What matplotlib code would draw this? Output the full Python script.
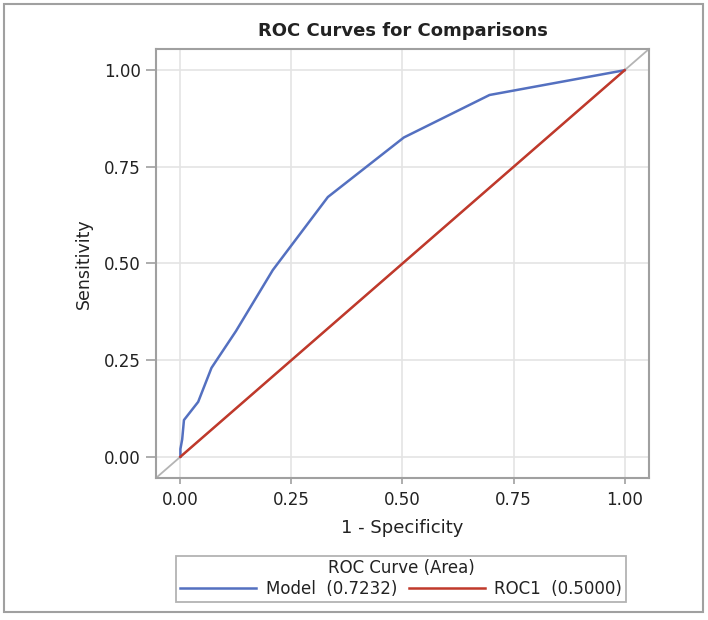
import numpy as np
import matplotlib.pyplot as plt
from matplotlib.patches import Rectangle

# -------------------------
# Data
# -------------------------
model_fpr = [0.0, 0.0, 0.004, 0.008, 0.04, 0.07, 0.125, 0.208, 0.332, 0.503, 0.696, 1.0]
model_tpr = [0.0, 0.02, 0.045, 0.095, 0.142, 0.23, 0.325, 0.483, 0.672, 0.826, 0.936, 1.0]
roc1_fpr = [0.0, 1.0]
roc1_tpr = [0.0, 1.0]
ticks = [0.0, 0.25, 0.5, 0.75, 1.0]
tick_labels = ["0.00", "0.25", "0.50", "0.75", "1.00"]

blue = "#5470c0"
red = "#c0392b"
frame_gray = "#a0a0a0"
text_col = "#222222"

# -------------------------
# Plot
# -------------------------
fig = plt.figure(figsize=(7.08, 6.2), dpi=100)
ax = fig.add_axes([0.2203, 0.229, 0.6964, 0.692])

lims = (-0.055, 1.055)
ax.set_xlim(lims)
ax.set_ylim(lims)

# reference diagonal across the whole area, corner to corner
ax.plot(lims, lims, color="#b4b4b4", lw=1.3, zorder=2)

ax.plot(model_fpr, model_tpr, color=blue, lw=1.8, zorder=3,
        label="Model  (0.7232)")
ax.plot(roc1_fpr, roc1_tpr, color=red, lw=1.8, zorder=3,
        label="ROC1  (0.5000)")

ax.set_xticks(ticks)
ax.set_yticks(ticks)
ax.set_xticklabels(tick_labels)
ax.set_yticklabels(tick_labels)
ax.grid(True, color="#e4e4e4", lw=1.2, zorder=0)
ax.set_axisbelow(True)

for s in ax.spines.values():
    s.set_color(frame_gray)
    s.set_linewidth(1.5)

ax.tick_params(axis="x", length=4, width=1.2, color=frame_gray,
               labelsize=12, labelcolor=text_col, pad=5.5)
ax.tick_params(axis="y", length=7.5, width=1.2, color=frame_gray,
               labelsize=12, labelcolor=text_col, pad=3.5)

ax.set_xlabel("1 - Specificity", fontsize=13, color=text_col, labelpad=7)
ax.set_ylabel("Sensitivity", fontsize=12.5, color=text_col, labelpad=8)
ax.set_title("ROC Curves for Comparisons", fontsize=13, fontweight="bold",
             color=text_col, pad=9)

leg = ax.legend(loc="center", bbox_to_anchor=(401 / 708, 1 - 578.5 / 620),
                bbox_transform=fig.transFigure, ncol=2,
                title="ROC Curve (Area)", fontsize=12, title_fontsize=12,
                frameon=True, fancybox=False, edgecolor=frame_gray,
                handlelength=4.6, columnspacing=0.7, handletextpad=0.55,
                borderpad=0.2, labelspacing=0.2)
leg.get_frame().set_linewidth(1.3)
leg.get_title().set_color(text_col)
for t in leg.get_texts():
    t.set_color(text_col)

# outer border around the whole graph
fig.patches.append(Rectangle((4 / 708, 8 / 620), 699 / 708, 608 / 620,
                             transform=fig.transFigure, fill=False,
                             edgecolor=frame_gray, lw=1.5))

plt.savefig("out.png", dpi=100)
